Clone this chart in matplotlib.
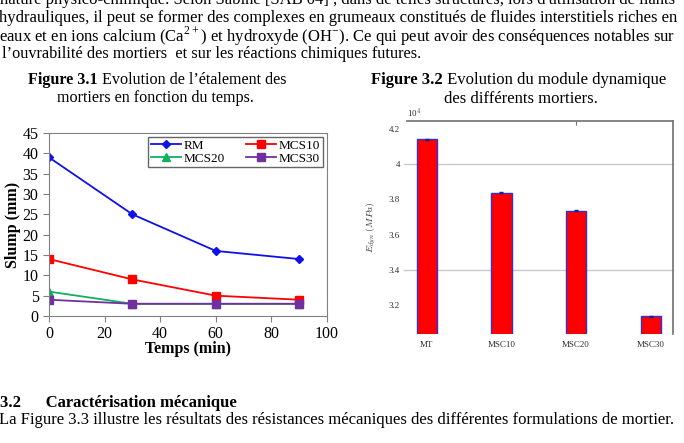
import matplotlib.pyplot as plt
from matplotlib.ticker import FuncFormatter

W, H = 684, 443

# figure 3.1 data
temps = [0, 30, 60, 90]
rm = [39, 25, 16, 14]
mcs10 = [14, 9, 5, 4]
mcs20 = [6, 3, 3, 3]
mcs30 = [4, 3, 3, 3]

# figure 3.2 data (MPa)
mortiers = ["MT", "MSC10", "MSC20", "MSC30"]
edyn = [41420, 38380, 37360, 31360]
edyn_err = [30, 30, 30, 30]

serif = "Liberation Serif"
plt.rcParams["mathtext.fontset"] = "custom"
plt.rcParams["mathtext.rm"] = serif


def box(l, t, r, b):
    return [l / W, 1 - b / H, (r - l) / W, (b - t) / H]


fig = plt.figure(figsize=(W / 100, H / 100), dpi=100)


def txt(x, y, s, size=12, **kw):
    return fig.text(x / W, 1 - y / H, s, fontsize=size, family=serif, va="center", **kw)


def caption(x, y, bold, rest, size=12):
    t = txt(x, y, bold, size=size, weight="bold")
    fig.add_artist(plt.Annotation(" " + rest, xy=(1, 0.5), xycoords=t, va="center",
                                  fontsize=size, family=serif))


# page text
txt(0, 0, "nature physico-chimique. Selon Sabine [SAB 04] , dans de telles structures, lors d'utilisation de liants")
txt(-1, 18, "hydrauliques, il peut se former des complexes en grumeaux constitués de fluides interstitiels riches en")
txt(-1, 36, "eaux et en ions calcium (Ca$^{2+}$) et hydroxyde (OH$^{-}$). Ce qui peut avoir des conséquences notables sur")
txt(2, 54, "l’ouvrabilité des mortiers  et sur les réactions chimiques futures.", size=11.7)

caption(28, 80, "Figure 3.1", "Evolution de l’étalement des", size=11.6)
txt(155, 98, "mortiers en fonction du temps.", size=11.6, ha="center")
caption(371, 80, "Figure 3.2", "Evolution du module dynamique")
txt(521, 99, "des différents mortiers.", ha="center")

txt(0, 403, "3.2      Caractérisation mécanique", weight="bold")
txt(-1, 420, "La Figure 3.3 illustre les résultats des résistances mécaniques des différentes formulations de mortier.")

# --- Figure 3.1 ---
ax = fig.add_axes(box(49, 133, 327, 316))
ax.plot(temps, rm, color="#1010e8", marker="D", markersize=4, lw=1.3, label="RM")
ax.plot(temps, mcs20, color="#10b060", marker="^", markersize=6, lw=1.3, label="MCS20")
ax.plot(temps, mcs10, color="#ff0000", marker="s", markersize=6, lw=1.3, label="MCS10")
ax.plot(temps, mcs30, color="#7030a0", marker="s", markersize=6, lw=1.3, label="MCS30")
ax.set_xlim(0, 100)
ax.set_ylim(0, 45)
ax.set_xticks(range(0, 101, 20))
ax.set_yticks(range(0, 46, 5))
for s in ax.spines.values():
    s.set_color("#808080")
ax.tick_params(direction="out", length=4, color="#808080", labelsize=11.5)
for lab in ax.get_xticklabels() + ax.get_yticklabels():
    lab.set_family(serif)
ax.set_xlabel("Temps (min)", family=serif, weight="bold", fontsize=11.5, labelpad=-1)
ax.set_ylabel("Slump (mm)", family=serif, weight="bold", fontsize=11.5, labelpad=1)
ax.legend(ncol=2, loc="upper right", bbox_to_anchor=(0.986, 0.978), fancybox=False,
          edgecolor="#404040", prop={"family": serif, "size": 9.5}, handlelength=2.3,
          borderpad=0.2, labelspacing=0.05, columnspacing=1.6, handletextpad=0.2,
          borderaxespad=0)

# --- Figure 3.2 ---
bx = fig.add_axes(box(407, 121, 673, 334))
x = range(len(mortiers))
bx.bar(x, edyn, width=0.27, color="#ff0000", edgecolor="#3030e0", linewidth=1,
       yerr=edyn_err, ecolor="#202080", capsize=1.5, error_kw={"elinewidth": 0.8}, zorder=3)
bx.set_xlim(-0.264, 3.297)
bx.set_ylim(30360, 42450)
bx.set_yticks([32000, 34000, 36000, 38000, 40000, 42000])
bx.yaxis.set_major_formatter(FuncFormatter(lambda v, p: f"{v / 1e4:g}"))
for yv in [40000, 34000]:
    bx.axhline(yv, xmin=-0.01, color="#c8c8d0", lw=1, zorder=1, clip_on=False)
bx.set_xticks(list(x))
bx.set_xticklabels(mortiers)
bx.tick_params(length=0, labelsize=6.5, labelcolor="#303030", pad=5)
for lab in bx.get_xticklabels() + bx.get_yticklabels():
    lab.set_family(serif)
bx.spines["left"].set_visible(False)
bx.spines["bottom"].set_visible(False)
bx.spines["top"].set_color("#707070")
bx.spines["right"].set_color("#707070")
bx.spines["top"].set_linewidth(1.2)
bx.spines["right"].set_linewidth(1.2)
top = bx.secondary_xaxis("top")
top.set_xticks([2])
top.tick_params(direction="in", length=3, color="#707070", labelsize=0)
top.set_xticklabels([""])
top.spines["top"].set_visible(False)
bx.text(0.0, 1.02, "10$^4$", transform=bx.transAxes, fontsize=6.5, family=serif,
        color="#303030", math_fontfamily="cm")
bx.set_ylabel("$E_{dyn}$ $(MPa)$", fontsize=7, color="#303030", labelpad=8, math_fontfamily="cm")

fig.savefig("out.png", dpi=100)
